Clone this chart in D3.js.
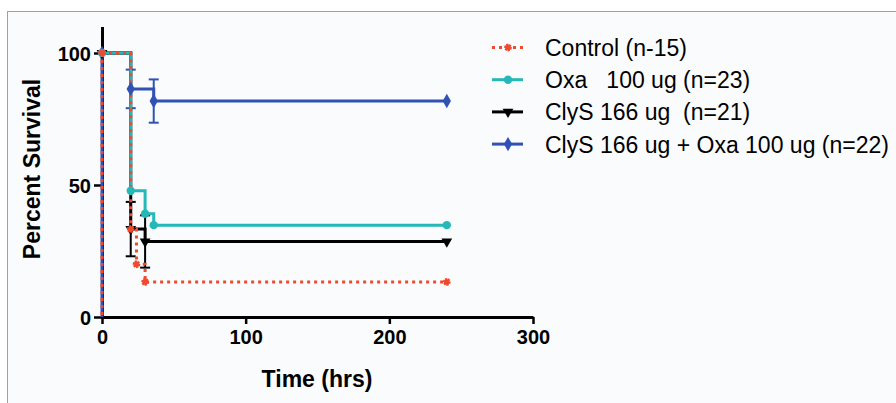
<!DOCTYPE html>
<html><head><meta charset="utf-8">
<script src="https://cdn.jsdelivr.net/npm/d3@7"></script>
<style>
html,body{margin:0;padding:0;background:#fff;}
svg{display:block;}
text{font-family:"Liberation Sans",Arial,sans-serif;}
</style></head>
<body>
<svg id="chart" width="896" height="403"></svg>
<script>
// ---- data ----
const xTicks = [0, 100, 200, 300];
const yTicks = [0, 50, 100];
const seriesNames = ["Control (n-15)", "Oxa   100 ug (n=23)", "ClyS 166 ug  (n=21)", "ClyS 166 ug + Oxa 100 ug (n=22)"];
const controlTimes = [0, 20, 24, 30, 240];
const controlSurv  = [100, 33.3, 20, 13.3, 13.3];
const oxaTimes = [0, 20, 30, 36, 240];
const oxaSurv  = [100, 47.8, 39.1, 34.8, 34.8];
const clysTimes = [0, 20, 30, 240];
const clysSurv  = [100, 33.3, 28.6, 28.6];
const comboTimes = [0, 20, 36, 240];
const comboSurv  = [100, 86.4, 81.8, 81.8];
// error bars: [time, low, high]
const clysErr  = [[20, 23.0, 43.6], [30, 18.7, 38.5]];
const comboErr = [[20, 79.1, 93.7], [36, 73.6, 90.0]];

const svg = d3.select("#chart");
// frame background
svg.append("rect").attr("x", 7.5).attr("y", 11.5).attr("width", 900).attr("height", 400)
  .attr("fill", "#fafbfd").attr("stroke", "#a0a0a0").attr("stroke-width", 1);

const x = d3.scaleLinear().domain([0, 300]).range([102, 533]);
const y = d3.scaleLinear().domain([0, 110]).range([317, 26.6]);

const g = svg.append("g");

// axes
const xAxis = d3.axisBottom(x).tickValues(xTicks).tickSize(7).tickSizeOuter(0).tickPadding(6);
const yAxis = d3.axisLeft(y).tickValues(yTicks).tickSize(8).tickSizeOuter(0).tickPadding(3);
const gx = g.append("g").attr("transform", `translate(0,${y(0)})`).call(xAxis);
const gy = g.append("g").attr("transform", `translate(${x(0)},0)`).call(yAxis);
[gx, gy].forEach(a => {
  a.select(".domain").attr("stroke", "#000").attr("stroke-width", 3);
  a.selectAll(".tick line").attr("stroke", "#000").attr("stroke-width", 2.5);
  a.selectAll(".tick text").attr("fill", "#000").attr("font-size", 20).attr("font-weight", "bold")
    .attr("font-family", '"Liberation Sans",Arial,sans-serif');
});
gy.selectAll(".tick text").attr("dy", "0.36em");

// axis titles
svg.append("text").attr("x", 317).attr("y", 387).attr("text-anchor", "middle")
  .attr("font-size", 23).attr("font-weight", "bold").text("Time (hrs)");
svg.append("text").attr("transform", "translate(40,169) rotate(-90)").attr("text-anchor", "middle")
  .attr("font-size", 23).attr("font-weight", "bold").text("Percent Survival");

const colors = {control: "#f04a2e", oxa: "#25b8b8", clys: "#000000", combo: "#2f52b4"};

// vertical drop at time 0
g.append("line").attr("x1", x(0)).attr("x2", x(0)).attr("y1", y(100)).attr("y2", y(0))
  .attr("stroke", colors.combo).attr("stroke-width", 3);
g.append("line").attr("x1", x(0)).attr("x2", x(0)).attr("y1", y(100)).attr("y2", y(0))
  .attr("stroke", colors.control).attr("stroke-width", 3).attr("stroke-dasharray", "3,4");

const line = d3.line().x(d => x(d[0])).y(d => y(d[1])).curve(d3.curveStepAfter);
function zip(t, s) { return t.map((v, i) => [v, s[i]]); }

function errBars(data, color) {
  data.forEach(([t, lo, hi]) => {
    g.append("line").attr("x1", x(t)).attr("x2", x(t)).attr("y1", y(lo)).attr("y2", y(hi))
      .attr("stroke", color).attr("stroke-width", 2);
    [lo, hi].forEach(v => g.append("line").attr("x1", x(t) - 5).attr("x2", x(t) + 5)
      .attr("y1", y(v)).attr("y2", y(v)).attr("stroke", color).attr("stroke-width", 2));
  });
}

function marker(sel, type, color, cx, cy) {
  if (type === "star") {
    sel.append("path").attr("d", d3.symbol(d3.symbolAsterisk, 40)())
      .attr("transform", `translate(${cx},${cy}) rotate(45)`).attr("stroke", color).attr("stroke-width", 2.5).attr("fill", "none");
    sel.append("circle").attr("cx", cx).attr("cy", cy).attr("r", 2.5).attr("fill", color);
  } else if (type === "circle") {
    sel.append("path").attr("d", d3.symbol(d3.symbolCircle, 55)()).attr("transform", `translate(${cx},${cy})`).attr("fill", color);
  } else if (type === "tri") {
    sel.append("path").attr("d", d3.symbol(d3.symbolTriangle, 50)()).attr("transform", `translate(${cx},${cy}) rotate(180)`).attr("fill", color);
  } else if (type === "diamond") {
    sel.append("path").attr("d", d3.symbol(d3.symbolDiamond, 60)()).attr("transform", `translate(${cx},${cy})`).attr("fill", color);
  }
}

// combo (blue)
errBars(comboErr, colors.combo);
g.append("path").datum(zip(comboTimes, comboSurv)).attr("d", line).attr("fill", "none")
  .attr("stroke", colors.combo).attr("stroke-width", 3);
// clys (black)
errBars(clysErr, colors.clys);
g.append("path").datum(zip(clysTimes, clysSurv)).attr("d", line).attr("fill", "none")
  .attr("stroke", colors.clys).attr("stroke-width", 3);
// oxa (teal)
g.append("path").datum(zip(oxaTimes, oxaSurv)).attr("d", line).attr("fill", "none")
  .attr("stroke", colors.oxa).attr("stroke-width", 3);
// control (red dotted)
g.append("path").datum(zip(controlTimes, controlSurv)).attr("d", line).attr("fill", "none")
  .attr("stroke", colors.control).attr("stroke-width", 3).attr("stroke-dasharray", "3,4");

// markers
zip(comboTimes, comboSurv).forEach(d => marker(g, "diamond", colors.combo, x(d[0]), y(d[1])));
zip(clysTimes, clysSurv).forEach(d => marker(g, "tri", colors.clys, x(d[0]), y(d[1])));
zip(oxaTimes, oxaSurv).forEach(d => marker(g, "circle", colors.oxa, x(d[0]), y(d[1])));
zip(controlTimes, controlSurv).forEach(d => marker(g, "star", colors.control, x(d[0]), y(d[1])));

// legend
const legTypes = [["star", colors.control, true], ["circle", colors.oxa, false], ["tri", colors.clys, false], ["diamond", colors.combo, false]];
const leg = svg.append("g");
seriesNames.forEach((name, i) => {
  const by = 56 + i * 32.2;
  const ly = by - 8.5;
  const [type, color, dotted] = legTypes[i];
  const l = leg.append("line").attr("x1", 492).attr("x2", 523).attr("y1", ly).attr("y2", ly)
    .attr("stroke", color).attr("stroke-width", 3);
  if (dotted) l.attr("stroke-dasharray", "3,4");
  marker(leg, type, color, 508, ly);
  leg.append("text").attr("x", 545).attr("y", by).attr("font-size", 23).attr("fill", "#000")
    .style("white-space", "pre").text(name);
});
</script>
</body></html>
